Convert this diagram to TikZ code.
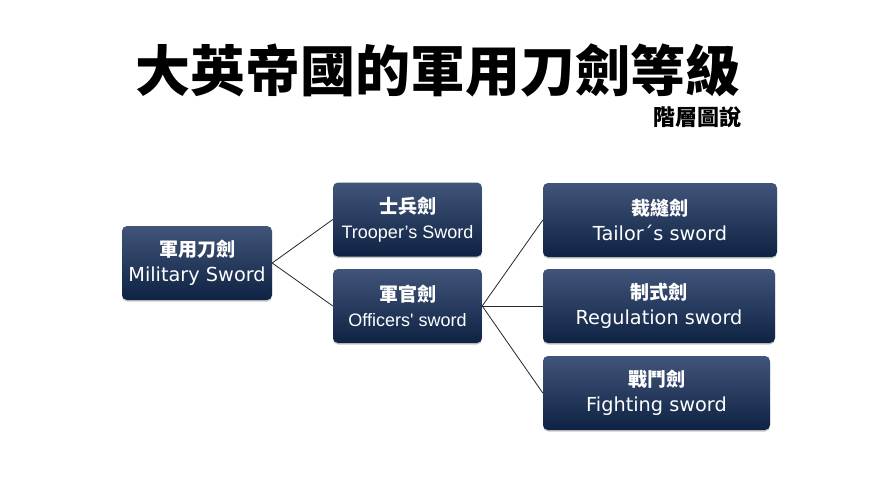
\documentclass[tikz,border=0pt]{standalone}
\usepackage{fontspec}
\setmainfont{DejaVu Sans}
\newfontfamily\cjk{Noto Sans CJK TC}
\newfontfamily\enr{DejaVu Sans}
\newfontfamily\ena{Liberation Sans}
\usetikzlibrary{shadows}
\definecolor{boxtop}{HTML}{41557A}
\definecolor{boxbot}{HTML}{0E2243}
\tikzset{
  sbox/.style={rounded corners=5pt, top color=boxtop, bottom color=boxbot, draw=none,
    text=white, align=center, inner sep=0pt, minimum height=74pt,
    font=\fontsize{19}{25}\selectfont,
    drop shadow={shadow xshift=0pt, shadow yshift=-1.5pt, opacity=0.35, fill=black!60}},
  conn/.style={draw=black!85, line width=0.8pt},
}
\newcommand{\twoline}[2]{{\cjk\bfseries #1}\\{\enr\fontsize{19.3}{25}\selectfont #2}}
\newcommand{\twolinea}[2]{{\cjk\bfseries #1}\\{\ena\fontsize{18}{25}\selectfont #2}}
\begin{document}
\begin{tikzpicture}[x=1pt,y=-1pt]
\useasboundingbox (0,0) rectangle (875,492);
\node (title) at (438,70) {\cjk\bfseries\fontsize{55}{60}\selectfont 大英帝國的軍用刀劍等級};
\node[anchor=east,inner sep=0pt] (sub) at (742,117) {\cjk\bfseries\fontsize{22}{24}\selectfont 階層圖說};
\node[sbox, minimum width=150pt] (mil) at (197,263) {\twoline{軍用刀劍}{Military Sword}};
\node[sbox, minimum width=149pt] (troop) at (407.5,219.5) {\twolinea{士兵劍}{Trooper’s Sword}};
\node[sbox, minimum width=149pt] (off) at (407.5,306) {\twolinea{軍官劍}{Officers' sword}};
\node[sbox, minimum width=234pt] (tail) at (660,220) {\twoline{裁縫劍}{Tailor´s sword}};
\node[sbox, minimum width=232pt] (reg) at (659,306) {\twoline{制式劍}{Regulation sword}};
\node[sbox, minimum width=227pt] (fight) at (656.5,393) {\twoline{戰鬥劍}{Fighting sword}};
\draw[conn] (mil.east) -- (troop.west);
\draw[conn] (mil.east) -- (off.west);
\draw[conn] (off.east) -- (tail.west);
\draw[conn] (off.east) -- (reg.west);
\draw[conn] (off.east) -- (fight.west);
\end{tikzpicture}
\end{document}
